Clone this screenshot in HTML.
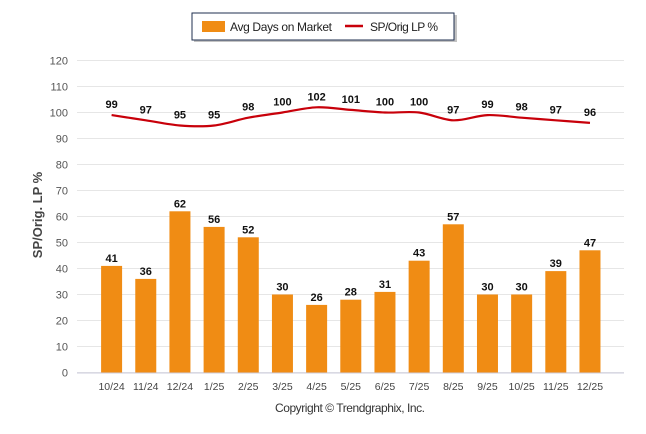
<!DOCTYPE html>
<html><head><meta charset="utf-8"><style>
body{margin:0;background:#fff;}
svg{display:block;font-family:"Liberation Sans",sans-serif;}
</style></head><body>
<svg id="chart" width="646" height="434">
<g>
<rect x="194" y="15" width="263" height="27" fill="#888" opacity="0.5"/>
<rect x="192" y="13" width="262" height="27" fill="#fff" stroke="#1f2f4f" stroke-width="1"/>
<rect x="202" y="21" width="23" height="11" fill="#f08c14"/>
<text x="230" y="31" font-size="12" fill="#222" textLength="102">Avg Days on Market</text>
<line x1="345" y1="26" x2="363" y2="26" stroke="#c8000a" stroke-width="2.5"/>
<text x="370" y="31" font-size="12" fill="#222" textLength="68">SP/Orig LP %</text>
</g>
<text transform="translate(42,215) rotate(-90)" text-anchor="middle" font-size="13" font-weight="bold" fill="#444">SP/Orig. LP %</text>
<g id="grid"></g><g id="bars"></g><g id="line"></g><g id="labels"></g>
<text x="350" y="412" text-anchor="middle" font-size="12" fill="#333" textLength="150">Copyright © Trendgraphix, Inc.</text>
</svg>
<script>
const categories=["10/24","11/24","12/24","1/25","2/25","3/25","4/25","5/25","6/25","7/25","8/25","9/25","10/25","11/25","12/25"];
const daysOnMarket=[41,36,62,56,52,30,26,28,31,43,57,30,30,39,47];
const spOrigLp=[99,97,95,95,98,100,102,101,100,100,97,99,98,97,96];
const yTicks=[0,10,20,30,40,50,60,70,80,90,100,110,120];
const NS="http://www.w3.org/2000/svg";
const x0=77,x1=624,yTop=60.5,yBot=372.5,yMax=120;
const cx=i=>111.6+i*34.17;
const y=v=>yBot-(v/yMax)*(yBot-yTop);
function mk(tag,attrs,parent,text){const e=document.createElementNS(NS,tag);for(const k in attrs)e.setAttribute(k,attrs[k]);if(text!==undefined)e.textContent=text;document.getElementById(parent).appendChild(e);return e;}
yTicks.forEach(t=>{
 const l=mk("line",{x1:x0,x2:x1,y1:y(t),y2:y(t),stroke:"#e6e6e6","stroke-width":1},"grid");
 
 
 const tx=mk("text",{x:68,y:y(t)+4,"text-anchor":"end","font-size":"11",fill:"#555"},"grid",t);
 
 
});
const ax=mk("line",{x1:x0,x2:x1,y1:yBot+0.5,y2:yBot+0.5,stroke:"#ccd",},"grid");


categories.forEach((c,i)=>{
 const b=mk("rect",{x:cx(i)-10.5,y:y(daysOnMarket[i]),width:21,height:yBot-y(daysOnMarket[i]),fill:"#f08c14"},"bars");
 
 
 const bl=mk("text",{x:cx(i),y:y(daysOnMarket[i])-4,"text-anchor":"middle","font-size":"11","font-weight":"bold",fill:"#111"},"labels",daysOnMarket[i]);
 
 
 const xl=mk("text",{x:cx(i),y:390,"text-anchor":"middle","font-size":"10.5",fill:"#444"},"labels",c);
 
 
 const ll=mk("text",{x:cx(i),y:y(spOrigLp[i])-7,"text-anchor":"middle","font-size":"11","font-weight":"bold",fill:"#111"},"labels",spOrigLp[i]);
 
 
});
const pts=spOrigLp.map((v,i)=>[cx(i),y(v)]);
let d="M"+pts[0][0]+","+pts[0][1];
for(let i=1;i<pts.length;i++){
 const p0=pts[Math.max(0,i-2)],p1=pts[i-1],p2=pts[i],p3=pts[Math.min(pts.length-1,i+1)];
 const c1=[p1[0]+(p2[0]-p0[0])/6,p1[1]+(p2[1]-p0[1])/6];
 const c2=[p2[0]-(p3[0]-p1[0])/6,p2[1]-(p3[1]-p1[1])/6];
 d+=" C"+c1[0]+","+c1[1]+" "+c2[0]+","+c2[1]+" "+p2[0]+","+p2[1];
}
const p=mk("path",{d:d,fill:"none",stroke:"#c8000a","stroke-width":2.2},"line");


</script>
</body></html>
